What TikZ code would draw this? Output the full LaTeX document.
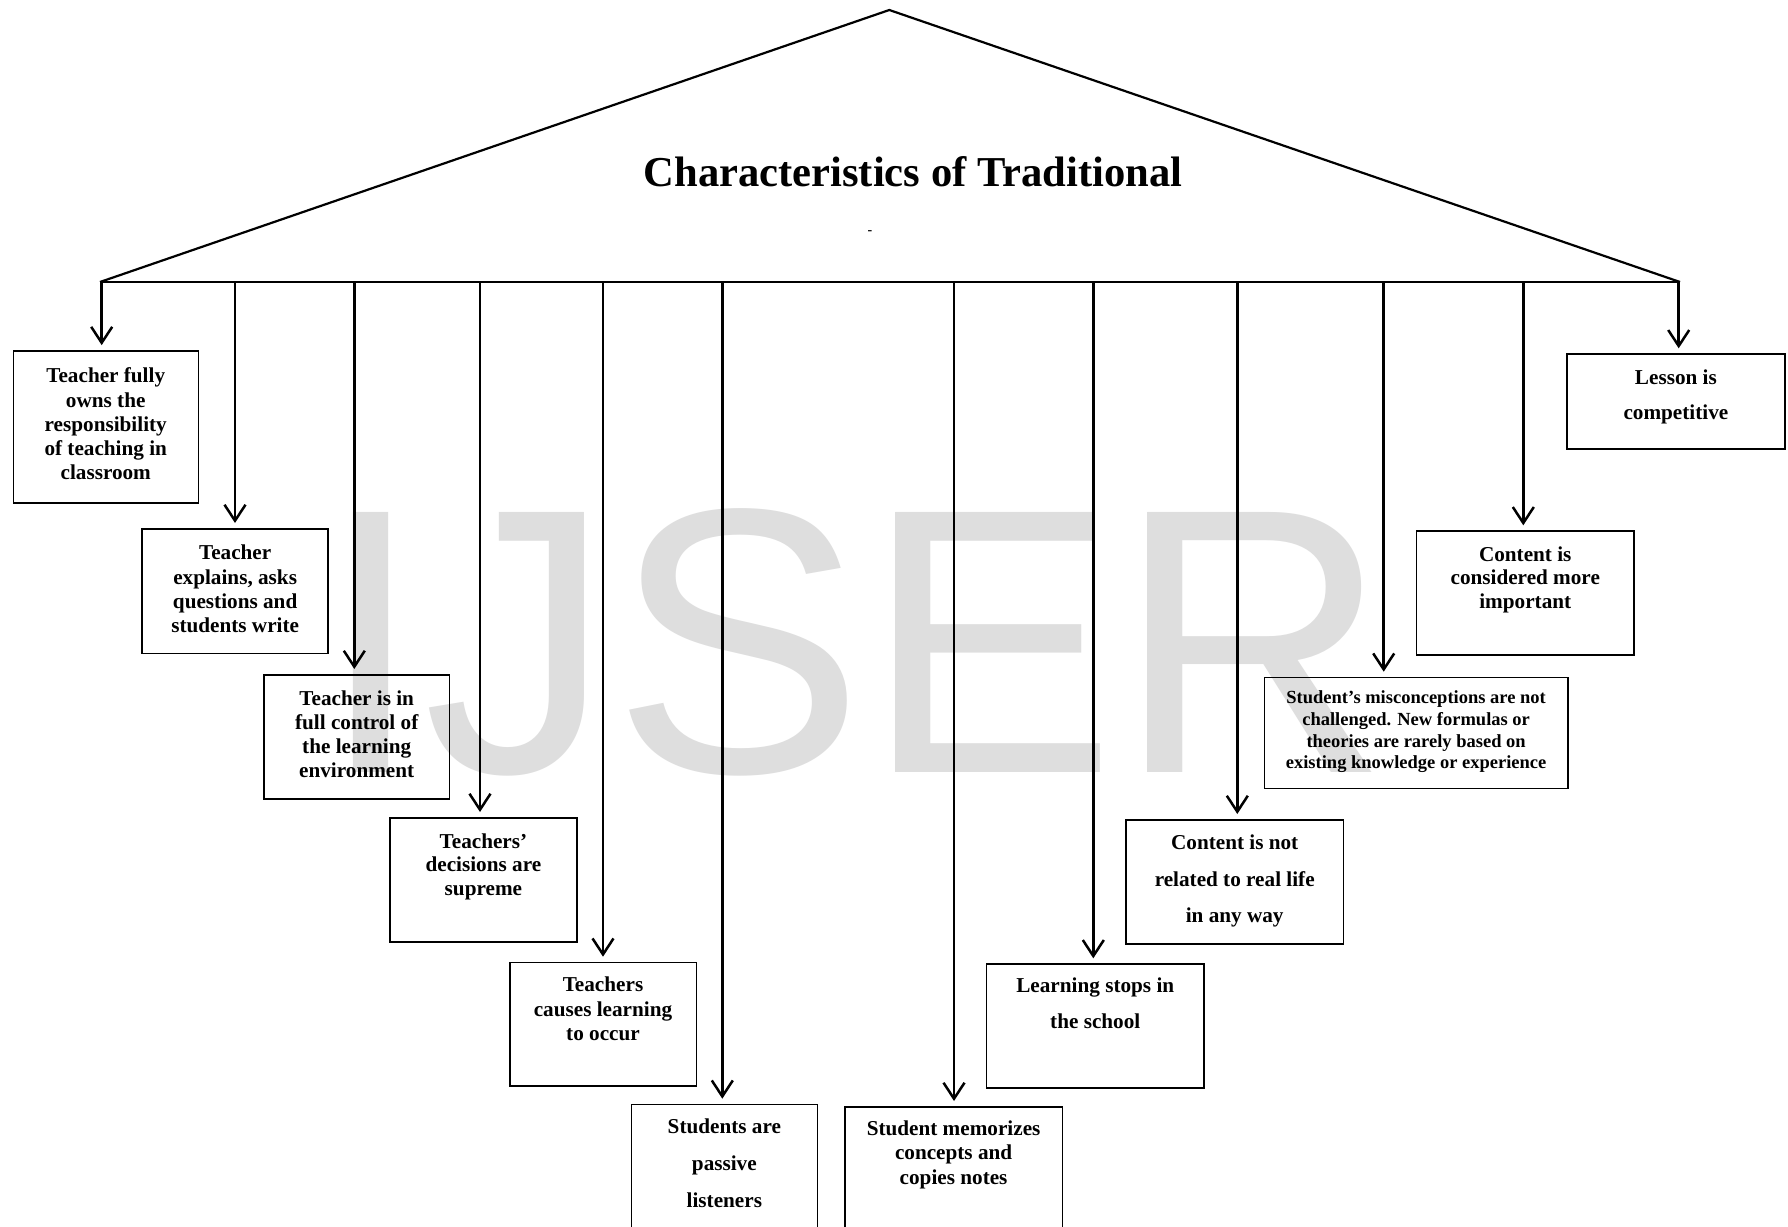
\documentclass[tikz,border=0pt]{standalone}
\usepackage{fontspec}
\setmainfont{Liberation Serif}
\newfontfamily\wmfont{Liberation Sans}
\usetikzlibrary{arrows.meta,calc}
\definecolor{wmgray}{HTML}{DEDEDE}
\newcommand\fsz[2]{\fontsize{#1}{#2}\selectfont\bfseries}
\newcommand\fl{\rule{0pt}{20pt}}
\tikzset{
  boxn/.style={draw=black, line width=1.5pt, inner sep=0pt, anchor=north west},
  txt/.style={inner sep=0pt, align=center, anchor=north, text=black},
  conn/.style={line width=2.5pt, -{Straight Barb[length=16pt,width=21pt]}, shorten >=5pt},
  roofline/.style={line width=2.2pt, line join=miter},
  baseln/.style={line width=2.5pt}
}
\begin{document}
\begin{tikzpicture}[x=1pt,y=-1pt]
\useasboundingbox (0,0) rectangle (1788,1226);
\clip (0,0) rectangle (1788,1226);
\fill[white] (0,0) rectangle (1788,1226);
% watermark
\node[anchor=base west, inner sep=0pt, text=wmgray, font=\wmfont\fontsize{378}{378}\selectfont] (wm) at (318,772) {IJSER};
% roof
\coordinate (L) at (100,282);
\coordinate (A) at (889.3,10);
\coordinate (R) at (1680,282);
\draw[roofline] (L) -- (A) -- (R);
\draw[baseln] (L) -- (R);
\node[anchor=base, inner sep=0pt, font=\fsz{42.6}{50}] (title) at (913,186) {Characteristics of Traditional};
\node[anchor=center, inner sep=0pt, font=\fsz{14}{16}] (dash) at (870,233) {-};
% boxes
\node[boxn, minimum width=185pt, minimum height=152pt] (n1) at (12.5,350.1) {};
\node[txt, font=\fsz{21.2}{24.2}] (t1) at ($(n1.north)+(0,12.5)$) {\fl Teacher fully\\owns the\\responsibility\\of teaching in\\classroom};
\node[boxn, minimum width=186pt, minimum height=124.5pt] (n2) at (141.4,528) {};
\node[txt, font=\fsz{21.2}{24.2}] (t2) at ($(n2.north)+(0,11.7)$) {\fl Teacher\\explains, asks\\questions and\\students write};
\node[boxn, minimum width=185.5pt, minimum height=124.2pt] (n3) at (263.2,674) {};
\node[txt, font=\fsz{21.2}{24.2}] (t3) at ($(n3.north)+(0,11)$) {\fl Teacher is in\\full control of\\the learning\\environment};
\node[boxn, minimum width=186.7pt, minimum height=124.3pt] (n4) at (389.3,817) {};
\node[txt, font=\fsz{21.2}{23.5}] (t4) at ($(n4.north)+(0,11)$) {\fl Teachers’\\decisions are\\supreme};
\node[boxn, minimum width=186.5pt, minimum height=123.6pt] (n5) at (509,961.7) {};
\node[txt, font=\fsz{21.2}{24.3}] (t5) at ($(n5.north)+(0,10)$) {\fl Teachers\\causes learning\\to occur};
\node[boxn, minimum width=186.2pt, minimum height=150pt] (n6) at (630.5,1103.7) {};
\node[txt, font=\fsz{21.2}{37}] (t6) at ($(n6.north)+(0,9.5)$) {\fl Students are\\passive\\listeners};
\node[boxn, minimum width=217.7pt, minimum height=150pt] (n7) at (844,1106) {};
\node[txt, font=\fsz{21.2}{24.5}] (t7) at ($(n7.north)+(0,9)$) {\fl Student memorizes\\concepts and\\copies notes};
\node[boxn, minimum width=217.6pt, minimum height=124pt] (n8) at (985.7,963.3) {};
\node[txt, font=\fsz{21.2}{36}] (t8) at ($(n8.north)+(0,9.4)$) {\fl Learning stops in\\the school};
\node[boxn, minimum width=217.5pt, minimum height=124.3pt] (n9) at (1125.2,819) {};
\node[txt, font=\fsz{21.2}{36.7}] (t9) at ($(n9.north)+(0,10.3)$) {\fl Content is not\\related to real life\\in any way};
\node[boxn, minimum width=303.3pt, minimum height=111pt] (n10) at (1263.7,676.7) {};
\node[txt, font=\fsz{18.5}{21.7}] (t10) at ($(n10.north)+(0,6.7)$) {\fl Student’s misconceptions are not\\challenged. New formulas or\\theories are rarely based on\\existing knowledge or experience};
\node[boxn, minimum width=217.6pt, minimum height=123.7pt] (n11) at (1415.7,530.3) {};
\node[txt, font=\fsz{21.2}{23.7}] (t11) at ($(n11.north)+(0,10.7)$) {\fl Content is\\considered more\\important};
\node[boxn, minimum width=217.7pt, minimum height=94.7pt] (n12) at (1566.3,353.3) {};
\node[txt, font=\fsz{21.2}{35.3}] (t12) at ($(n12.north)+(0,10.7)$) {\fl Lesson is\\competitive};
% connectors
\coordinate (c1) at (101.7,282);
\coordinate (c2) at (235,282);
\coordinate (c3) at (354.3,282);
\coordinate (c4) at (480,282);
\coordinate (c5) at (603,282);
\coordinate (c6) at (722.3,282);
\coordinate (c7) at (954,282);
\coordinate (c8) at (1093.3,282);
\coordinate (c9) at (1237.3,282);
\coordinate (c10) at (1383.7,282);
\coordinate (c11) at (1523.3,282);
\coordinate (c12) at (1678.7,282);
\foreach \i in {1,...,12}{
  \draw[conn] (c\i) -- (c\i |- n\i.north);
}
\end{tikzpicture}
\end{document}
